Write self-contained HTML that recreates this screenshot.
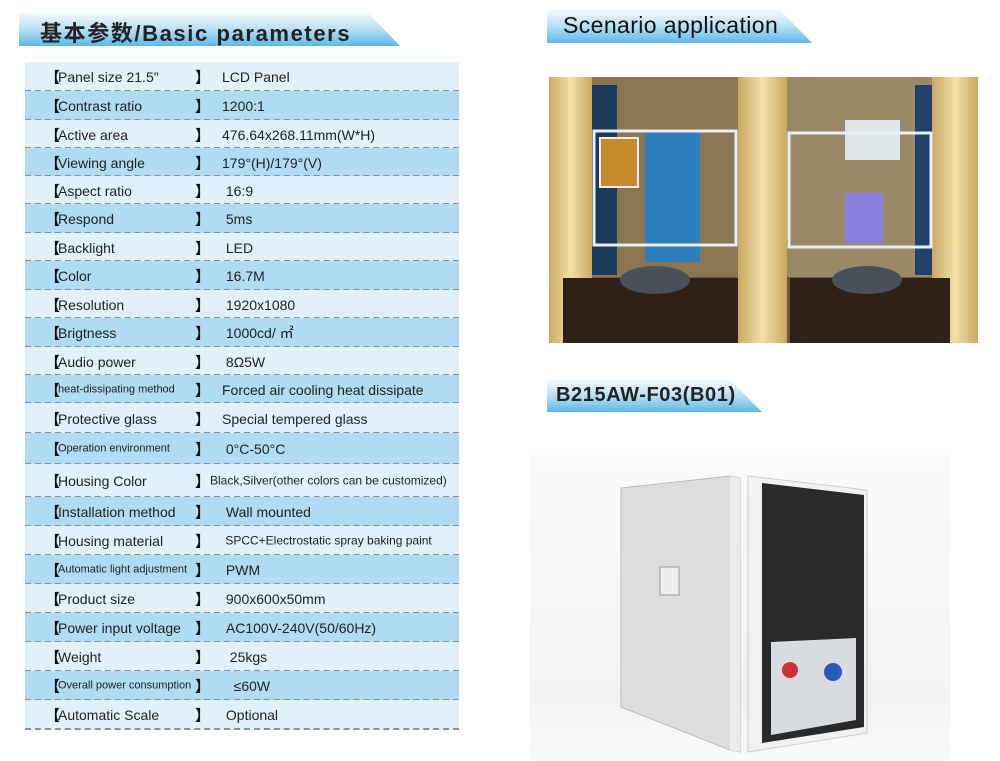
<!DOCTYPE html>
<html><head><meta charset="utf-8"><style>
*{margin:0;padding:0;box-sizing:border-box}
body{width:1000px;height:761px;background:#fff;position:relative;overflow:hidden;font-family:"Liberation Sans","Noto Sans CJK SC",sans-serif;color:#222}
.ban{position:absolute;background:linear-gradient(180deg,#f2f9fd 0%,#bfe2f5 45%,#5db9e8 100%);clip-path:polygon(0 0,calc(100% - 32px) 0,100% 100%,0 100%)}
.ban span{position:absolute;white-space:nowrap}
.row{position:absolute;left:25px;width:434px;border-bottom:2px dashed #8a8f94}
.l{background:#e1f1fa}.d{background:#b1dbf3}
.row b{position:absolute;font-weight:bold;font-size:15px;color:#111;top:50%;transform:translateY(-45%)}
.row i{font-style:normal;position:absolute;top:50%;transform:translateY(-45%);white-space:nowrap;font-size:14px}
.k{left:33px}.v{left:197px}
</style></head><body>
<div class="ban" style="left:19px;top:13px;width:381px;height:33px"><span style="left:21px;top:3px;font-size:22px;font-weight:bold;color:#222;letter-spacing:1.6px">基本参数/Basic parameters</span></div>
<div class="ban" style="left:547px;top:10px;width:265px;height:33px"><span style="left:16px;top:2px;font-size:23px;color:#111;letter-spacing:0.4px">Scenario application</span></div>
<div class="ban" style="left:547px;top:380px;width:215px;height:32px"><span style="left:9px;top:4px;font-size:20px;font-weight:bold;color:#222;letter-spacing:0.6px">B215AW-F03(B01)</span></div>

<div id="t"></div>
<script>
var b=[62,91,120,148,176,204,233,261,290,318,347,375,403,433,464,497,526,555,584,613,642,671,700,729];
var r=[["Panel size 21.5\"","LCD Panel"],["Contrast ratio","1200:1"],["Active area","476.64x268.11mm(W*H)"],["Viewing angle","179°(H)/179°(V)"],["Aspect ratio"," 16:9"],["Respond"," 5ms"],["Backlight"," LED"],["Color"," 16.7M"],["Resolution"," 1920x1080"],["Brigtness"," 1000cd/ ㎡"],["Audio power"," 8Ω5W"],["heat-dissipating method","Forced air cooling heat dissipate",1],["Protective glass","Special tempered glass"],["Operation environment"," 0°C-50°C",1],["Housing Color","Black,Silver(other colors can be customized)",0,1],["Installation method"," Wall mounted"],["Housing material"," SPCC+Electrostatic spray baking paint",0,2],["Automatic light adjustment"," PWM",1],["Product size"," 900x600x50mm"],["Power input voltage"," AC100V-240V(50/60Hz)"],["Weight","  25kgs"],["Overall power consumption","   ≤60W",1],["Automatic Scale"," Optional"]];
var h="";
for(var i=0;i<r.length;i++){var x=r[i];var ks=x[2]?"font-size:11px":"";var vs=x[3]==1?"font-size:12px;left:185px":(x[3]==2?"font-size:12px":"");
h+='<div class="row '+(i%2?'d':'l')+'" style="top:'+b[i]+'px;height:'+(b[i+1]-b[i]+1)+'px"><b style="left:20px">【</b><i class="k" style="'+ks+'">'+x[0]+'</i><b style="left:170px">】</b><i class="v" style="'+vs+'">'+x[1].replace(/ /g,'&nbsp;')+'</i></div>';}
document.getElementById('t').innerHTML=h;
</script>

<svg style="position:absolute;left:0;top:0" width="1000" height="761">
<defs>
<linearGradient id="pl" x1="0" x2="1"><stop offset="0" stop-color="#c9a862"/><stop offset=".5" stop-color="#f3dfa8"/><stop offset="1" stop-color="#c9a862"/></linearGradient>
<linearGradient id="fl" x1="0" y1="0" x2="0" y2="1"><stop offset="0" stop-color="#fbfbfb"/><stop offset=".8" stop-color="#f2f2f2"/><stop offset="1" stop-color="#fafafa"/></linearGradient>
</defs>
<rect x="549" y="77" width="429" height="266" fill="#6b5a3e"/>
<rect x="592" y="77" width="146" height="200" fill="#8a7650"/>
<rect x="787" y="77" width="145" height="200" fill="#9a8966"/>
<rect x="592" y="85" width="25" height="190" fill="#1c3a5c"/>
<rect x="645" y="132" width="55" height="130" fill="#2f7fbf"/>
<rect x="845" y="120" width="55" height="40" fill="#dfe6ea"/>
<rect x="915" y="85" width="17" height="190" fill="#22416a"/>
<rect x="549" y="77" width="43" height="266" fill="url(#pl)"/>
<rect x="738" y="77" width="49" height="266" fill="url(#pl)"/>
<rect x="932" y="77" width="46" height="266" fill="url(#pl)"/>
<rect x="594" y="131" width="142" height="114" fill="none" stroke="#e8eef2" stroke-width="3"/>
<rect x="789" y="133" width="142" height="114" fill="none" stroke="#e8eef2" stroke-width="3"/>
<rect x="600" y="138" width="38" height="49" fill="#c58a2a" stroke="#eee" stroke-width="2"/>
<rect x="845" y="193" width="38" height="50" fill="#8a7ee0"/>
<rect x="563" y="278" width="175" height="65" fill="#2e2218"/>
<rect x="790" y="278" width="160" height="65" fill="#2e2218"/>
<ellipse cx="655" cy="280" rx="35" ry="14" fill="#4a5058"/>
<ellipse cx="867" cy="280" rx="35" ry="14" fill="#4a5058"/>
<rect x="530" y="455" width="420" height="306" fill="url(#fl)"/>
<polygon points="621,488 730,476 740,478 740,752 730,750 621,707" fill="#dcdddf" stroke="#bbb"/>
<polygon points="730,476 740,478 740,752 730,750" fill="#ececec"/>
<rect x="660" y="567" width="19" height="28" fill="#eee" stroke="#999"/>
<polygon points="748,476 867,490 867,733 748,752" fill="#f2f2f2" stroke="#ccc"/>
<polygon points="762,483 864,495 864,727 762,743" fill="#2a2a2a"/>
<polygon points="771,642 856,638 856,720 771,735" fill="#d8dce0"/>
<circle cx="790" cy="670" r="8" fill="#c33"/><circle cx="833" cy="672" r="9" fill="#2a5ab8"/>
</svg>
</body></html>
